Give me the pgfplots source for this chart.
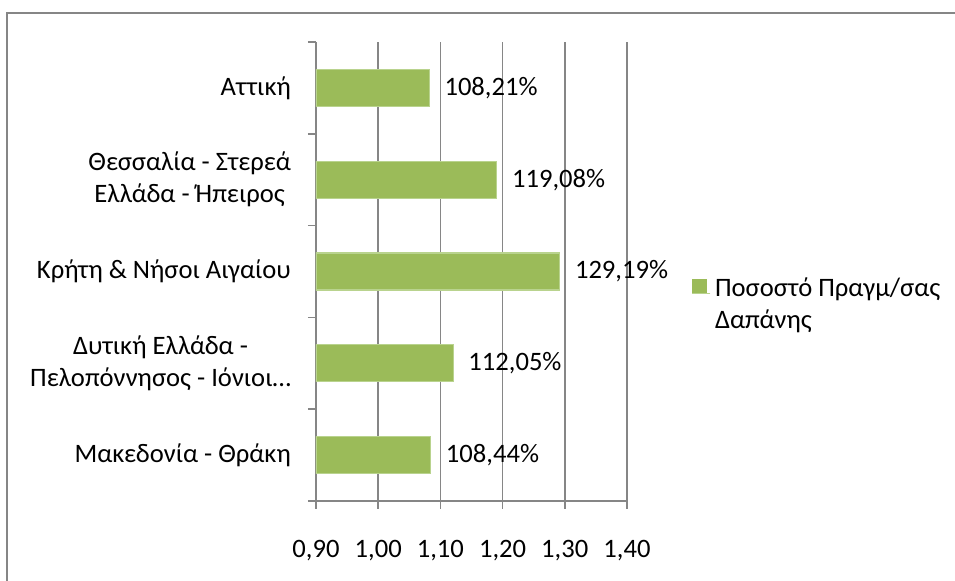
\documentclass[border=0pt]{standalone}
\usepackage{fontspec}
\setmainfont{Carlito}
\usepackage{pgfplots}
\pgfplotsset{compat=1.18}
\definecolor{barfill}{HTML}{9BBB59}
\definecolor{baredge}{HTML}{B9D38E}
\definecolor{axgray}{HTML}{868686}
\begin{document}
\begin{tikzpicture}
\useasboundingbox (0,0) rectangle (477.5pt,290.5pt);
\fill[white] (0,0) rectangle (477.5pt,290.5pt);
\draw[axgray, line width=1pt] (3.5pt,0) -- (3.5pt,284pt) -- (477.5pt,284pt);
\begin{axis}[
  at={(158pt,40pt)}, anchor=south west,
  scale only axis, width=155.5pt, height=229.5pt,
  font=\fontsize{13.3}{16}\selectfont,
  xbar, bar width=18.5pt,
  xmin=0.9, xmax=1.4, ymin=-0.5, ymax=4.5,
  axis x line*=bottom, axis y line*=left,
  axis line style={axgray, line width=0.8pt},
  xtick={0.9,1.0,...,1.41},
  xmajorgrids, major grid style={axgray, line width=0.8pt},
  tick align=outside, major tick length=4pt,
  tick style={axgray, line width=0.8pt},
  /pgf/number format/.cd, fixed, fixed zerofill, precision=2, use comma,
  assume math mode=true, /pgfplots/.cd,
  xticklabel style={yshift=-12pt},
  ytick={-0.5,0.5,...,4.6}, yticklabels={},
  extra y ticks={0,1,2,3,4},
  extra y tick labels={{Μακεδονία - Θράκη},{Δυτική Ελλάδα -\\Πελοπόννησος - Ιόνιοι…},{Κρήτη \& Νήσοι Αιγαίου},{Θεσσαλία - Στερεά\\Ελλάδα - Ήπειρος },{Αττική}},
  extra y tick style={major tick length=0pt, yticklabel style={align=center, xshift=-9pt}},
  point meta=explicit symbolic,
  nodes near coords, every node near coord/.append style={anchor=west, xshift=4pt, text=black},
  legend style={draw=none, at={(1.188,0.505)}, anchor=north west, cells={align=left}},
  legend cell align=left,
  legend image code/.code={\fill[barfill] (0pt,5.5pt) rectangle (7pt,12.5pt);
    \path (0pt,5.5pt) -- (9pt,5.5pt);},
]
\addplot[fill=barfill, draw=baredge, line width=0.6pt] coordinates {
  (1.0844,0) [108,44\%]
  (1.1205,1) [112,05\%]
  (1.2919,2) [129,19\%]
  (1.1908,3) [119,08\%]
  (1.0821,4) [108,21\%]
};
\addlegendentry{Ποσοστό Πραγμ/σας\\Δαπάνης}
\end{axis}
\end{tikzpicture}
\end{document}
